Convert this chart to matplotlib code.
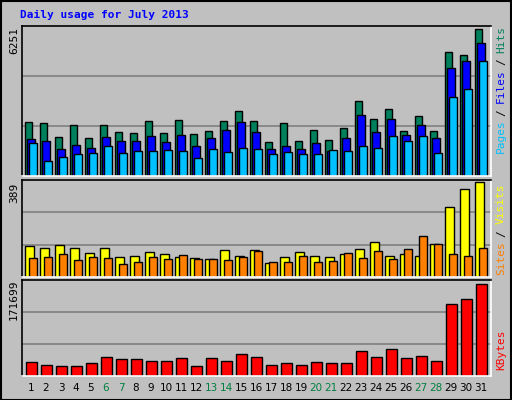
import numpy as np
import matplotlib
matplotlib.use("Agg")
import matplotlib.pyplot as plt

days = list(range(1, 32))
weekend = [6, 7, 13, 14, 20, 21, 27, 28]

hits = [2293, 2250, 1667, 2167, 1625, 2167, 1875, 1833, 2333, 1833, 2375, 1792, 1917, 2333, 2750, 2333,
        1458, 2250, 1500, 1958, 1542, 2042, 3208, 2417, 2833, 1917, 2542, 1917, 5292, 5125, 6251]
files = [1585, 1500, 1167, 1333, 1208, 1667, 1500, 1500, 1708, 1458, 1750, 1292, 1625, 1958, 2292, 1875,
         1167, 1292, 1167, 1417, 1083, 1625, 2583, 1875, 2417, 1750, 2167, 1625, 4583, 4875, 5667]
pages = [1418, 625, 792, 917, 958, 1292, 958, 1083, 1042, 1125, 1083, 750, 1167, 1000, 1208, 1167,
         917, 1000, 917, 917, 1125, 1042, 1292, 1208, 1708, 1500, 1708, 958, 3375, 3708, 4875]
visits = [128, 119, 132, 119, 98, 119, 81, 86, 102, 94, 81, 77, 73, 111, 86, 111,
          56, 81, 102, 86, 81, 94, 115, 145, 86, 94, 86, 136, 288, 359, 389]
sites = [77, 81, 94, 69, 81, 77, 52, 60, 81, 73, 90, 73, 73, 69, 81, 107,
         60, 60, 86, 60, 65, 98, 77, 107, 73, 115, 166, 136, 94, 86, 119]
kbytes = [26944, 21300, 19425, 19425, 25064, 34463, 30700, 30700, 28824, 28824, 32583, 19425, 32583, 28824,
          40102, 34463, 21300, 25064, 21300, 26944, 25064, 25064, 45742, 34463, 49501, 32583, 36343, 28824,
          134092, 143490, 171699]

BG = "#c0c0c0"
W, H = 512, 400
fig = plt.figure(figsize=(W / 100, H / 100), dpi=100, facecolor=BG)
x = np.array(days)


def panel(top, bottom, ymax):
    ax = fig.add_axes([22 / W, 1 - bottom / H, (491 - 22) / W, (bottom - top) / H])
    ax.set_facecolor(BG)
    ax.set_xlim(0.4, 31.67)
    ax.set_ylim(0, ymax)
    for g in (ymax / 3, 2 * ymax / 3):
        ax.axhline(g, color="#808080", lw=1.2, zorder=0)
    ax.set_xticks([])
    ax.set_yticks([])
    for s in ax.spines.values():
        s.set_color("black")
        s.set_linewidth(1.2)
    ax.spines["bottom"].set_color("white")
    ax.spines["right"].set_color("white")
    return ax


kw = dict(edgecolor="black", linewidth=1.0, align="edge")

ax1 = panel(26, 176, 6378)
ax1.bar(x - 0.4, hits, 0.5, color="#00805c", **kw)
ax1.bar(x - 0.27, files, 0.54, color="#0000ff", **kw)
ax1.bar(x - 0.13, pages, 0.52, color="#00c0ff", **kw)

ax2 = panel(180, 277, 397)
ax2.bar(x - 0.4, visits, 0.58, color="#ffff00", **kw)
ax2.bar(x - 0.13, sites, 0.52, color="#ff8000", **kw)

ax3 = panel(280, 376, 178590)
ax3.bar(x - 0.33, kbytes, 0.7, color="#ff0000", **kw)

mono = dict(family="DejaVu Sans Mono", fontsize=8)
fig.text(20 / W, 1 - 15 / H, "Daily usage for July 2013", color="#0000ff",
         fontweight="bold", va="center", ha="left", **mono)
for label, ypix in (("6251", 40), ("389", 193), ("171699", 300)):
    fig.text(14 / W, 1 - ypix / H, label, rotation=90, va="center", ha="center", **mono)

for d in days:
    xp = 22 + (d - 0.4) / 31.27 * 469
    fig.text(xp / W, 1 - 388 / H, str(d), ha="center", va="center",
             color="#008040" if d in weekend else "black", fontsize=7.5)


def side(parts, ytop):
    # rotated legend words stacked downward from ytop
    yy = ytop
    for txt, col in parts:
        fig.text(501 / W, 1 - yy / H, txt, rotation=90, color=col, ha="center",
                 va="top", **mono)
        yy += len(txt) * 7.4 + 3


side([("Hits", "#00805c"), ("/", "black"), ("Files", "#0000ff"), ("/", "black"), ("Pages", "#00c0ff")], 26)
side([("Visits", "#ffff00"), ("/", "black"), ("Sites", "#ff8000")], 183)
side([("KBytes", "#ff0000")], 330)

# outer frame
fig.add_artist(plt.Rectangle((0.5 / W, 0.5 / H), 1 - 1.5 / W, 1 - 1.5 / H, transform=fig.transFigure,
                             fill=False, edgecolor="black", lw=1.5))

fig.savefig("out.png", dpi=100, facecolor=BG)
